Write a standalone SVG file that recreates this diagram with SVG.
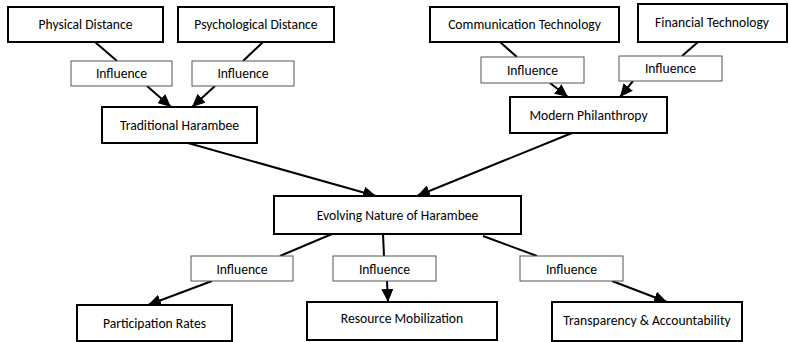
<svg xmlns="http://www.w3.org/2000/svg" width="789" height="342" viewBox="0 0 789 342">
<style>
.node rect{fill:#fff;stroke:#000;stroke-width:2}
.lbl rect{fill:#fff;stroke:#555;stroke-width:1}
text{font-family:Carlito,Lato,"Liberation Sans",sans-serif;font-size:13.6px;fill:#000;text-anchor:middle}
.conn line{stroke:#000;stroke-width:2}
</style>
<defs>
<marker id="arr" markerUnits="userSpaceOnUse" markerWidth="14" markerHeight="12" refX="13" refY="6" orient="auto">
<path d="M0,0 L13,6 L0,12 Z" fill="#000"/>
</marker>
</defs>
<rect width="789" height="342" fill="#fff"/>
<g id="connectors" class="conn">
<line x1="95" y1="42" x2="117" y2="61"/>
<line x1="147" y1="86" x2="171" y2="107" marker-end="url(#arr)"/>
<line x1="263" y1="42" x2="243" y2="61"/>
<line x1="215" y1="86" x2="192" y2="107" marker-end="url(#arr)"/>
<line x1="500" y1="42" x2="517" y2="57"/>
<line x1="550" y1="83" x2="568" y2="97" marker-end="url(#arr)"/>
<line x1="698" y1="42" x2="682" y2="56"/>
<line x1="633" y1="81" x2="620" y2="97" marker-end="url(#arr)"/>
<line x1="188" y1="143" x2="376" y2="196" marker-end="url(#arr)"/>
<line x1="572" y1="133" x2="417" y2="196" marker-end="url(#arr)"/>
<line x1="332" y1="234" x2="280" y2="256"/>
<line x1="212" y1="281" x2="148" y2="305" marker-end="url(#arr)"/>
<line x1="383" y1="234" x2="384" y2="256"/>
<line x1="387" y1="281" x2="388" y2="302" marker-end="url(#arr)"/>
<line x1="483" y1="236" x2="537" y2="256"/>
<line x1="612" y1="281" x2="667" y2="302" marker-end="url(#arr)"/>
</g>
<g id="physical" class="node"><rect x="8" y="7" width="155" height="35"/><text x="85.5" y="29">Physical Distance</text></g>
<g id="psychological" class="node"><rect x="178" y="7" width="156" height="35"/><text x="256" y="29">Psychological Distance</text></g>
<g id="communication" class="node"><rect x="430" y="7" width="189" height="35"/><text x="524.5" y="29">Communication Technology</text></g>
<g id="financial" class="node"><rect x="638" y="4" width="149" height="38"/><text x="712" y="27">Financial Technology</text></g>
<g id="traditional" class="node"><rect x="102" y="107" width="155" height="36"/><text x="179.5" y="130">Traditional Harambee</text></g>
<g id="modern" class="node"><rect x="510" y="97" width="157" height="36"/><text x="588.5" y="120">Modern Philanthropy</text></g>
<g id="evolving" class="node"><rect x="274" y="196" width="247" height="38"/><text x="397.5" y="219.5">Evolving Nature of Harambee</text></g>
<g id="participation" class="node"><rect x="77" y="305" width="155" height="36"/><text x="154.5" y="328">Participation Rates</text></g>
<g id="resource" class="node"><rect x="307" y="302" width="190" height="38"/><text x="402" y="323">Resource Mobilization</text></g>
<g id="transparency" class="node"><rect x="552" y="302" width="190" height="39"/><text x="647" y="325">Transparency &amp; Accountability</text></g>
<g id="lbl1" class="lbl"><rect x="71" y="61" width="101" height="25"/><text x="121.5" y="78">Influence</text></g>
<g id="lbl2" class="lbl"><rect x="192" y="61" width="102" height="25"/><text x="243" y="78">Influence</text></g>
<g id="lbl3" class="lbl"><rect x="481" y="57" width="103" height="26"/><text x="532.5" y="75">Influence</text></g>
<g id="lbl4" class="lbl"><rect x="619" y="56" width="103" height="25"/><text x="670.5" y="73">Influence</text></g>
<g id="lbl5" class="lbl"><rect x="191" y="256" width="102" height="25"/><text x="242" y="274">Influence</text></g>
<g id="lbl6" class="lbl"><rect x="333" y="256" width="103" height="25"/><text x="384.5" y="274">Influence</text></g>
<g id="lbl7" class="lbl"><rect x="520" y="256" width="103" height="25"/><text x="571.5" y="274">Influence</text></g>
</svg>
